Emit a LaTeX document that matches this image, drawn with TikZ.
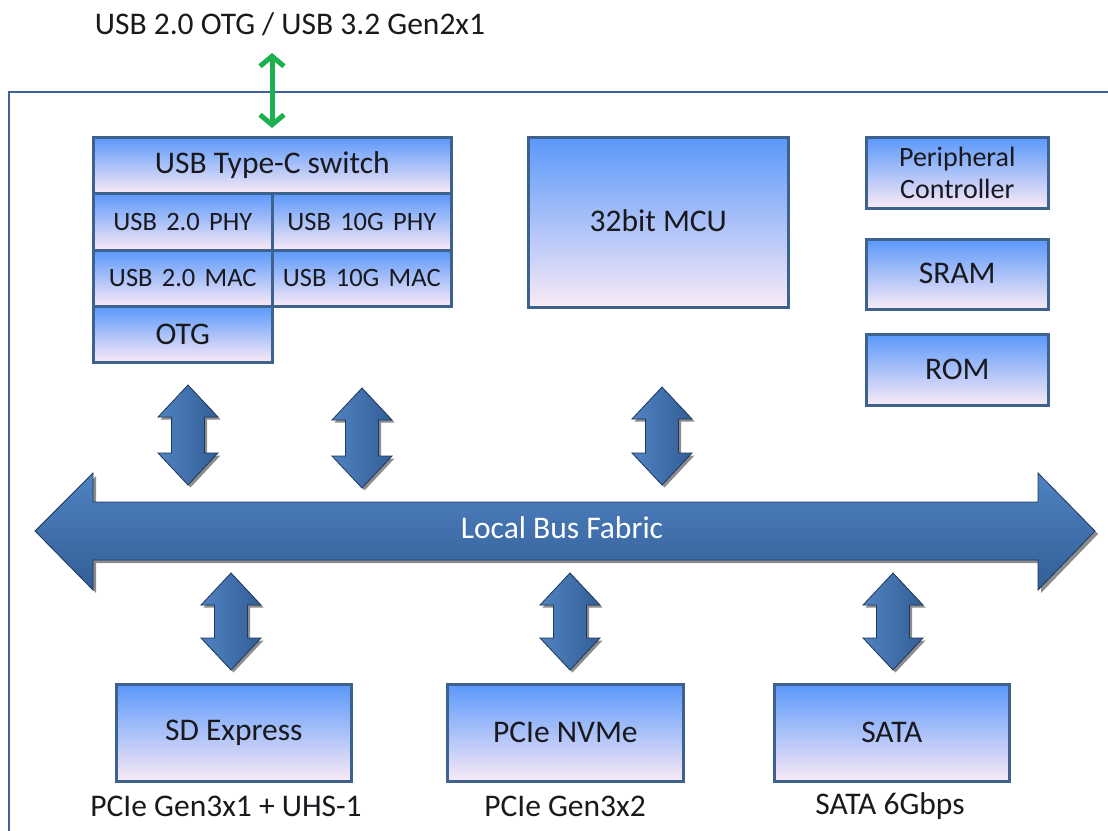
\documentclass[tikz,border=0pt]{standalone}
\usepackage{fontspec}
\setmainfont{Carlito}
\usetikzlibrary{arrows.meta,calc}

\definecolor{boxtop}{RGB}{90,152,250}
\definecolor{boxmid}{RGB}{138,192,248}
\definecolor{boxbot}{RGB}{250,234,246}
\definecolor{boxline}{RGB}{62,98,142}
\definecolor{framec}{RGB}{60,100,150}
\definecolor{greenc}{RGB}{28,176,80}
\definecolor{arrL}{RGB}{80,130,194}
\definecolor{arrR}{RGB}{50,94,150}
\definecolor{arredge}{RGB}{30,55,90}
\definecolor{txt}{RGB}{25,25,30}

\tikzset{
  blk/.style={draw=boxline, line width=2.6pt, top color=boxtop, middle color=boxmid,
    bottom color=boxbot, anchor=north west, inner sep=0pt, text=txt, align=center,
    font=\fontsize{31.5}{34}\selectfont},
  subblk/.style={blk, font=\fontsize{26.5}{29}\selectfont},
  lbl/.style={text=txt, inner sep=0pt, font=\fontsize{31.5}{34}\selectfont},
  frameline/.style={draw=framec, line width=2.4pt},
  greenarr/.style={draw=greenc, line width=5pt, {Straight Barb[length=10pt,width=24pt]}-{Straight Barb[length=10pt,width=24pt]}},
  blockarr/.style={draw=arredge, line width=0.8pt, left color=arrL, right color=arrR},
  busarr/.style={draw=arredge, line width=0.8pt, top color=arrL, bottom color=arrR},
  shadowfill/.style={fill=black, opacity=0.45}
}

\newcommand{\vdarr}[3]{%
  \fill[shadowfill] ({#1+2.5},{#2+2.5}) -- ({#1+32.5},{#2+34.5}) -- ({#1+19},{#2+34.5}) -- ({#1+19},{#3-29.5}) -- ({#1+32.5},{#3-29.5}) -- ({#1+2.5},{#3+2.5}) -- ({#1-27.5},{#3-29.5}) -- ({#1-14},{#3-29.5}) -- ({#1-14},{#2+34.5}) -- ({#1-27.5},{#2+34.5}) -- cycle;
  \path[blockarr] (#1,#2) -- ({#1+30},{#2+32}) -- ({#1+16.5},{#2+32}) -- ({#1+16.5},{#3-32}) -- ({#1+30},{#3-32}) -- (#1,#3) -- ({#1-30},{#3-32}) -- ({#1-16.5},{#3-32}) -- ({#1-16.5},{#2+32}) -- ({#1-30},{#2+32}) -- cycle;
}

\begin{document}
\begin{tikzpicture}[x=1pt,y=-1pt]
\useasboundingbox (0,0) rectangle (1108,830);

% title and frame
\node[lbl] (ttl) at (290,24) {USB 2.0 OTG / USB 3.2 Gen2x1};
\draw[frameline] (9,831) -- (9,92) -- (1109,92);

% USB block
\node[blk, minimum width=358, minimum height=56] (usbc) at (92,136) {USB Type-C switch};
\node[subblk, minimum width=179, minimum height=57] (phy2) at (92,192) {USB\hspace{0.35em}2.0\hspace{0.35em}PHY};
\node[subblk, minimum width=179, minimum height=57] (phy10) at (271,192) {USB\hspace{0.35em}10G\hspace{0.35em}PHY};
\node[subblk, minimum width=179, minimum height=56] (mac2) at (92,249) {USB\hspace{0.35em}2.0\hspace{0.35em}MAC};
\node[subblk, minimum width=179, minimum height=56] (mac10) at (271,249) {USB\hspace{0.35em}10G\hspace{0.35em}MAC};
\node[blk, minimum width=179, minimum height=56] (otg) at (92,305) {OTG};

% MCU and memories
\node[blk, minimum width=260, minimum height=170] (mcu) at (527,136) {\raisebox{3pt}{32bit MCU}};
\node[blk, font=\fontsize{28}{32}\selectfont, minimum width=182, minimum height=71] (periph) at (865,136) {Peripheral\\Controller};
\node[blk, minimum width=182, minimum height=70] (sram) at (865,238) {\raisebox{2pt}{SRAM}};
\node[blk, minimum width=182, minimum height=71] (rom) at (865,333) {\raisebox{2pt}{ROM}};

% bottom devices
\node[blk, minimum width=235, minimum height=97] (sd) at (115,683) {SD Express};
\node[blk, minimum width=236, minimum height=97] (nvme) at (446,683) {PCIe NVMe};
\node[blk, minimum width=235, minimum height=97] (sata) at (773,683) {SATA};

\node[lbl] (sdl) at (226,806) {PCIe Gen3x1 + UHS-1};
\node[lbl] (nvmel) at (565,806) {PCIe Gen3x2};
\node[lbl] (satal) at (890,806) {SATA 6Gbps};

% green external link
\coordinate (gtop) at (272,53);
\draw[greenarr] (gtop) -- ([yshift=8pt]usbc.north -| gtop);

% local bus
\fill[shadowfill] (38,534) -- (96,476) -- (96,505) -- (1041,505) -- (1041,476) -- (1098,534) -- (1041,593) -- (1041,563) -- (96,563) -- (96,593) -- cycle;
\path[busarr] (35,531) -- (93,473) -- (93,502) -- (1038,502) -- (1038,473) -- (1095,531) -- (1038,590) -- (1038,560) -- (93,560) -- (93,590) -- cycle;
\node[lbl, text=white] (bus) at (562,528) {Local Bus Fabric};

% block arrows
\vdarr{188}{385}{485}
\vdarr{362}{388}{488}
\vdarr{662}{387}{485}
\vdarr{231}{573}{670}
\vdarr{570}{573}{670}
\vdarr{893}{573}{670}
\end{tikzpicture}
\end{document}
